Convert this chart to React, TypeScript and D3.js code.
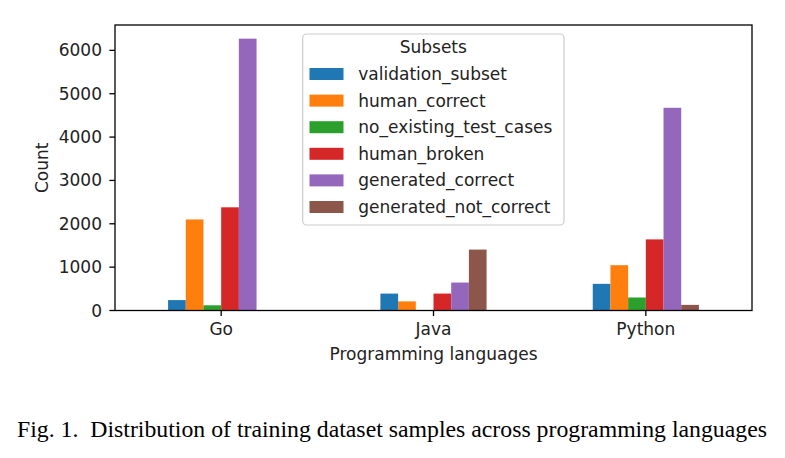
import * as d3 from "d3";

// counts per language for each subset
const languages = ["Go", "Java", "Python"];
const subsets = [
  "validation_subset",
  "human_correct",
  "no_existing_test_cases",
  "human_broken",
  "generated_correct",
  "generated_not_correct",
];
const goCounts = [240, 2100, 120, 2380, 6270, 0];
const javaCounts = [390, 210, 0, 390, 645, 1405];
const pythonCounts = [615, 1045, 300, 1640, 4675, 130];
const yTicks = [0, 1000, 2000, 3000, 4000, 5000, 6000];
const colors = ["#1f77b4", "#ff7f0e", "#2ca02c", "#d62728", "#9467bd", "#8c564b"];

const counts = [goCounts, javaCounts, pythonCounts];

const W = 785;
const H = 458;
const left = 115;
const right = 752;
const top = 25;
const bottom = 310.5;
const font = "DejaVu Sans, sans-serif";
const fs = 17;

export default function App() {
  const x = d3.scaleLinear().domain([-0.5, 2.5]).range([left, right]);
  const y = d3.scaleLinear().domain([0, 6585]).range([bottom, top]);
  const barW = 0.5 / subsets.length;

  return (
    <svg
      width={W}
      height={H}
      style={{ position: "absolute", left: 0, top: 0, background: "#fff" }}
    >
      {/* bars */}
      {languages.map((lang, li) =>
        subsets.map((s, si) => {
          const v = counts[li][si];
          const x0 = x(li - 0.25 + si * barW);
          const x1 = x(li - 0.25 + (si + 1) * barW);
          return (
            <rect
              key={lang + s}
              x={x0}
              y={y(v)}
              width={x1 - x0}
              height={bottom - y(v)}
              fill={colors[si]}
            />
          );
        })
      )}

      {/* frame */}
      <rect
        x={left}
        y={top}
        width={right - left}
        height={bottom - top}
        fill="none"
        stroke="#000"
        strokeWidth={1.3}
      />

      {/* y axis */}
      {yTicks.map((t) => (
        <g key={t}>
          <line x1={left - 5.6} x2={left} y1={y(t)} y2={y(t)} stroke="#000" strokeWidth={1.3} />
          <text
            x={left - 13}
            y={y(t)}
            textAnchor="end"
            dominantBaseline="central"
            fontFamily={font}
            fontSize={fs}
            fill="#222"
          >
            {t}
          </text>
        </g>
      ))}
      <text
        transform={`translate(41.5,${(top + bottom) / 2}) rotate(-90)`}
        textAnchor="middle"
        dominantBaseline="central"
        fontFamily={font}
        fontSize={fs}
        fill="#222"
      >
        Count
      </text>

      {/* x axis */}
      {languages.map((lang, li) => (
        <g key={lang}>
          <line x1={x(li)} x2={x(li)} y1={bottom} y2={bottom + 5.6} stroke="#000" strokeWidth={1.3} />
          <text
            x={x(li)}
            y={bottom + 18.5}
            textAnchor="middle"
            dominantBaseline="central"
            fontFamily={font}
            fontSize={fs}
            fill="#222"
          >
            {lang}
          </text>
        </g>
      ))}
      <text
        x={(left + right) / 2}
        y={354}
        textAnchor="middle"
        dominantBaseline="central"
        fontFamily={font}
        fontSize={fs}
        fill="#222"
      >
        Programming languages
      </text>

      {/* legend */}
      <g>
        <rect
          x={302.7}
          y={34}
          width={261.3}
          height={191}
          rx={4}
          fill="#fff"
          fillOpacity={0.8}
          stroke="#ccc"
          strokeWidth={1.2}
        />
        <text
          x={433.3}
          y={47}
          textAnchor="middle"
          dominantBaseline="central"
          fontFamily={font}
          fontSize={fs}
          fill="#222"
        >
          Subsets
        </text>
        {subsets.map((s, si) => {
          const cy = 74 + si * 26.6;
          return (
            <g key={s}>
              <rect x={309.5} y={cy - 6} width={34} height={12} fill={colors[si]} />
              <text
                x={358.3}
                y={cy}
                dominantBaseline="central"
                fontFamily={font}
                fontSize={fs}
                fill="#222"
              >
                {s}
              </text>
            </g>
          );
        })}
      </g>

      {/* caption */}
      <text
        x={17}
        y={437.3}
        fontFamily="Liberation Serif, Times New Roman, serif"
        fontSize={22.5}
        fill="#000"
        textLength={750}
        lengthAdjust="spacingAndGlyphs"
        style={{ whiteSpace: "pre" }}
      >
        {"Fig. 1.  Distribution of training dataset samples across programming languages"}
      </text>
    </svg>
  );
}
